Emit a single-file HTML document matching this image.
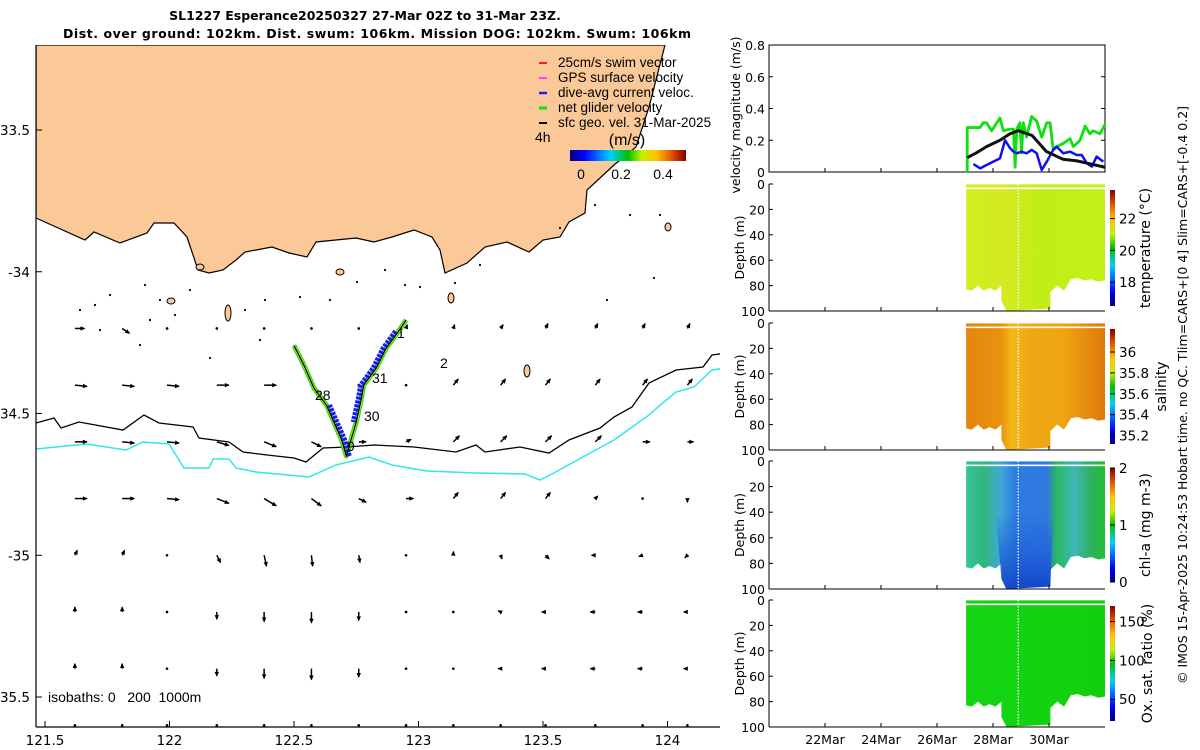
<!DOCTYPE html>
<html><head><meta charset="utf-8"><style>
html,body{margin:0;padding:0;background:#fff;}
svg{display:block;font-family:"DejaVu Sans","Liberation Sans",sans-serif;}
</style></head><body>
<svg id="root" width="1200" height="750" viewBox="0 0 1200 750" xmlns="http://www.w3.org/2000/svg">
<defs>
<linearGradient id="jet" x1="0" y1="1" x2="0" y2="0">
<stop offset="0" stop-color="#00007f"/><stop offset="0.12" stop-color="#0000ff"/><stop offset="0.35" stop-color="#00d0ff"/><stop offset="0.5" stop-color="#00c000"/><stop offset="0.62" stop-color="#c8f000"/><stop offset="0.75" stop-color="#ffc000"/><stop offset="0.88" stop-color="#e05000"/><stop offset="1" stop-color="#800000"/></linearGradient>
<linearGradient id="jetH" x1="0" y1="0" x2="1" y2="0">
<stop offset="0" stop-color="#00007f"/><stop offset="0.12" stop-color="#0000ff"/><stop offset="0.35" stop-color="#00d0ff"/><stop offset="0.5" stop-color="#00c000"/><stop offset="0.62" stop-color="#c8f000"/><stop offset="0.75" stop-color="#ffc000"/><stop offset="0.88" stop-color="#e05000"/><stop offset="1" stop-color="#800000"/></linearGradient>
<linearGradient id="gT" x1="0" y1="0" x2="1" y2="0"><stop offset="0" stop-color="#d0ee20"/><stop offset="0.3" stop-color="#d4ea22"/><stop offset="0.5" stop-color="#c2ee18"/><stop offset="1" stop-color="#c4f018"/></linearGradient>
<linearGradient id="gS" x1="0" y1="0" x2="1" y2="0"><stop offset="0" stop-color="#e2860c"/><stop offset="0.25" stop-color="#e8920e"/><stop offset="0.33" stop-color="#f6b818"/><stop offset="0.45" stop-color="#eea814"/><stop offset="0.7" stop-color="#f0a412"/><stop offset="1" stop-color="#dc7a0a"/></linearGradient>
<linearGradient id="gC" x1="0" y1="0" x2="1" y2="0"><stop offset="0" stop-color="#38c4a0"/><stop offset="0.12" stop-color="#30b878"/><stop offset="0.25" stop-color="#40a8d8"/><stop offset="0.35" stop-color="#2c7ce0"/><stop offset="0.58" stop-color="#3078e0"/><stop offset="0.65" stop-color="#28b860"/><stop offset="0.78" stop-color="#40b8b8"/><stop offset="0.9" stop-color="#30b060"/><stop offset="1" stop-color="#20c030"/></linearGradient>
<linearGradient id="gCv" x1="0" y1="0" x2="0" y2="1"><stop offset="0" stop-color="#1c5ad8" stop-opacity="0"/><stop offset="0.5" stop-color="#1c5ad8" stop-opacity="0.6"/><stop offset="1" stop-color="#1040c8" stop-opacity="0.9"/></linearGradient>
<linearGradient id="gO" x1="0" y1="0" x2="1" y2="0"><stop offset="0" stop-color="#14d414"/><stop offset="1" stop-color="#10d010"/></linearGradient>
<clipPath id="mapclip"><rect x="36" y="45" width="684" height="682"/></clipPath>
</defs>

<text x="365" y="20" font-size="12.5" font-weight="bold" text-anchor="middle">SL1227 Esperance20250327 27-Mar 02Z to 31-Mar 23Z.</text>
<text x="377" y="38" font-size="12.5" font-weight="bold" text-anchor="middle" textLength="628">Dist. over ground: 102km. Dist. swum: 106km. Mission DOG: 102km. Swum: 106km</text>

<g id="map">
<g clip-path="url(#mapclip)">
<polygon id="land" fill="#fbc898" stroke="#000" stroke-width="1.2" points="36,45 665,45 649,107 636,147 614,165 587,190 585,213 569,222 560,237 543,240 529,252 507,242 485,247 467,263 445,273 440,250 432,237 414,230 392,237 374,242 356,238 316,242 307,257 289,253 272,247 245,252 236,260 223,270 209,273 198,270 187,237 174,223 154,223 147,233 120,243 94,232 85,240 36,218"/>
<polyline fill="none" stroke="#000" stroke-width="1.3" points="36,423 54,418 61,428 79,422 123,430 144,415 159,423 193,427 199,438 229,442 243,452 267,455 294,458 306,462 323,448 347,447 374,445 414,447 456,452 476,445 485,452 520,447 549,453 569,440 600,428 614,417 632,407 649,383 676,370 703,367 712,355 727,353"/>
<polyline fill="none" stroke="#30e8e8" stroke-width="1.5" points="36,449 86,444 126,450 143,442 169,444 184,468 209,468 213,459 229,459 236,468 256,472 309,477 336,465 369,457 392,465 427,471 476,473 525,474 540,480 552,474 583,457 614,440 649,415 658,407 676,392 694,387 712,370 727,368"/>
<g id="islands" fill="#fbc898" stroke="#000" stroke-width="1">
<ellipse cx="228" cy="313" rx="3" ry="8"/><ellipse cx="451" cy="298" rx="3" ry="5"/><ellipse cx="200" cy="267" rx="4" ry="3"/><ellipse cx="171" cy="301" rx="4" ry="3"/><ellipse cx="527" cy="371" rx="3" ry="6"/><ellipse cx="668" cy="227" rx="3" ry="4"/><ellipse cx="340" cy="272" rx="4" ry="3"/>
</g>
<g id="specks" fill="#000"></g>
<g id="arrows"></g>
<g id="track"></g>
</g>
<line x1="36" y1="45" x2="36" y2="727" stroke="#000" stroke-width="1.2"/>
<line x1="36" y1="727" x2="720" y2="727" stroke="#000" stroke-width="1.2"/>
<g id="mapticks" font-size="13.5"></g>
<g font-size="14" font-family="Liberation Sans, sans-serif">
<text x="397" y="338">1</text><text x="440" y="368">2</text><text x="372" y="383">31</text><text x="315" y="400">28</text><text x="364" y="421">30</text><text x="347" y="451">9</text>
</g>
<g font-size="13.5" font-family="Liberation Sans, sans-serif">
<line x1="539" y1="63" x2="547" y2="63" stroke="#ff2020" stroke-width="2"/><text x="558" y="67">25cm/s swim vector</text>
<line x1="539" y1="78" x2="547" y2="78" stroke="#ff40ff" stroke-width="2"/><text x="558" y="82">GPS surface velocity</text>
<line x1="539" y1="93" x2="547" y2="93" stroke="#2020ff" stroke-width="2.5"/><text x="558" y="97">dive-avg current veloc.</text>
<line x1="539" y1="108" x2="547" y2="108" stroke="#10e010" stroke-width="3"/><text x="558" y="112">net glider velocity</text>
<line x1="539" y1="123" x2="547" y2="123" stroke="#000" stroke-width="2"/><text x="558" y="127">sfc geo. vel. 31-Mar-2025</text>
<text x="535" y="142" font-size="14">4h</text>
<text x="627" y="145" font-size="16" text-anchor="middle">(m/s)</text>
<rect x="570" y="150" width="116" height="11" fill="url(#jetH)"/>
<text x="581" y="179" text-anchor="middle" font-size="14">0</text><text x="621" y="179" text-anchor="middle" font-size="14">0.2</text><text x="663" y="179" text-anchor="middle" font-size="14">0.4</text>
</g>
<text x="48" y="702" font-size="14" font-family="Liberation Sans, sans-serif" style="white-space:pre">isobaths: 0   200  1000m</text>
</g>

<g id="right" font-size="12.5"></g>
<text transform="translate(1187,395) rotate(-90)" text-anchor="middle" font-size="12.5">© IMOS 15-Apr-2025 10:24:53 Hobart time. no QC. Tlim=CARS+[0 4] Slim=CARS+[-0.4 0.2]</text>
</svg>
<script>
// ---------- data ----------
const lonTicks = [121.5, 122, 122.5, 123, 123.5, 124];
const latTicks = ["33.5", "-34", "34.5", "-35", "35.5"];
const latTickVals = [-33.5, -34, -34.5, -35, -35.5];
const arrowLats = [-34.2, -34.4, -34.6, -34.8, -35.0, -35.2, -35.4, -35.6];
const arrowLons = [121.62, 121.81, 121.99, 122.19, 122.38, 122.57, 122.76, 122.95, 123.14, 123.33, 123.51, 123.71, 123.9, 124.08];
const arrowU = [
 [8,6,1,1,1,1,1,1,1,2,2,2,2,2],
 [10,10,10,10,10,1,1,1,4,4,4,4,4,4],
 [10,10,10,10,10,8,6,4,5,5,5,5,6,5],
 [10,10,10,10,10,8,6,6,4,4,4,2,0,0],
 [2,2,0,3,2,1,1,0,0,1,3,-3,-3,-2],
 [0,0,0,0,0,0,0,0,0,-2,-3,-4,-4,-3],
 [0,0,0,0,0,0,0,0,0,-2,-3,-4,-4,-3],
 [0,0,0,0,0,0,0,0,0,0,0,0,0,0]];
const arrowV = [
 [0,4,0,0,0,0,0,-3,-3,-3,-4,-4,-4,-4],
 [1,1,1,0,0,0,0,0,-5,-5,-5,-5,-5,-5],
 [0,1,1,3,4,4,0,-2,-5,-5,-5,-5,0,0],
 [0,0,1,4,6,6,3,0,-5,-5,-5,-2,0,3],
 [-4,-4,0,6,9,9,6,0,-3,3,3,0,1,2],
 [-4,-4,0,6,8,9,7,0,0,-1,0,0,0,0],
 [-4,-4,0,6,8,9,7,0,0,0,0,0,0,0],
 [0,0,0,0,0,0,0,0,0,0,0,0,0,0]];
const trackLon = [122.95, 122.92, 122.87, 122.83, 122.78, 122.77, 122.75, 122.73, 122.71, 122.69, 122.66, 122.63, 122.58, 122.54, 122.50];
const trackLat = [-34.17, -34.21, -34.27, -34.34, -34.40, -34.45, -34.53, -34.59, -34.65, -34.59, -34.53, -34.47, -34.41, -34.33, -34.26];
const blueSegStart = [1, 8];
const blueSegEnd = [6, 11];
const greenT = [27.08,27.08,27.54,27.65,27.77,27.95,28.25,28.37,28.61,28.73,28.79,28.85,28.96,29.02,29.08,29.2,29.38,29.56,29.74,29.92,30.04,30.15,30.27,30.51,30.75,30.87,31.11,31.29,31.46,31.58,31.82,32.0];
const greenV = [0,0.28,0.28,0.31,0.31,0.26,0.34,0.26,0.27,0.27,0.03,0.27,0.31,0.12,0.31,0.22,0.35,0.32,0.22,0.31,0.31,0.14,0.16,0.18,0.21,0.16,0.20,0.29,0.24,0.26,0.24,0.30];
const blueT = [27.30,27.54,27.77,28.01,28.25,28.43,28.61,28.73,28.85,29.02,29.2,29.38,29.56,29.74,29.92,30.15,30.27,30.51,30.75,30.99,31.17,31.35,31.53,31.7,31.94];
const blueV = [0.05,0.023,0.044,0.065,0.086,0.2,0.15,0.128,0.118,0.128,0.118,0.139,0.118,0.013,0.065,0.139,0.16,0.118,0.128,0.107,0.107,0.055,0.034,0.097,0.065];
const blackT = [27.08,27.4,27.77,28.25,28.6,28.9,29.4,29.9,30.5,31.0,31.5,32.0];
const blackV = [0.09,0.12,0.16,0.2,0.24,0.26,0.23,0.13,0.08,0.07,0.05,0.03];
const velTicks = [0, 0.2, 0.4, 0.6, 0.8];
const depthTicks = [0, 20, 40, 60, 80, 100];
const dateTicks = [22, 24, 26, 28, 30];
const dateLabels = ["22Mar","24Mar","26Mar","28Mar","30Mar"];
const secStart = 27.04, secEnd = 32.0, bulgeStart = 28.3, bulgeEnd = 30.05, gapT = 28.9;
const bodyBottom = [80,84,82,84,80,84,83];
const rightBottom = [76,77,75,76,74,75,84,80,85];
const tempTicks = [22,20,18], tempMin = 16.5, tempMax = 23.8;
const salTicks = [36,35.8,35.6,35.4,35.2], salMin = 35.12, salMax = 36.22;
const chlTicks = [2,1,0], chlMin = 0, chlMax = 2;
const oxTicks = [150,100,50], oxMin = 22, oxMax = 170;

const NS = "http://www.w3.org/2000/svg";
function mk(tag, attrs, parent){ const e=document.createElementNS(NS,tag); for(const k in attrs) e.setAttribute(k,attrs[k]); parent.appendChild(e); return e; }
const lonX = lon => 45 + (lon-121.5)*249;
const latY = lat => 130 + (-33.5-lat)*283.5;
const tX = d => 769 + (d-20)*28;
const ARROW_SCALE = 1.2;

const mt = document.getElementById('mapticks');
lonTicks.forEach(v=>{ const x=lonX(v);
 const l=mk('line',{x1:x,y1:727,x2:x,y2:721,stroke:'#000'},mt);
  
 const t=mk('text',{x:x,y:745,'text-anchor':'middle'},mt); t.textContent=v;
  
});
latTickVals.forEach((v,i)=>{ const y=latY(v);
 const l=mk('line',{x1:36,y1:y,x2:42,y2:y,stroke:'#000'},mt);
  
 const t=mk('text',{x:30,y:y+5,'text-anchor':'end'},mt); t.textContent=latTicks[i];
  
});
const sp=document.getElementById('specks');
[[80,310],[95,305],[110,295],[145,285],[160,300],[175,315],[150,320],[190,290],[245,310],[265,300],[300,297],[330,300],[357,282],[385,270],[405,285],[420,287],[455,283],[480,265],[560,228],[595,205],[630,215],[660,215],[607,300],[654,278],[100,330],[140,345],[210,358],[260,340]].forEach(p=>{
 const c=mk('circle',{cx:p[0],cy:p[1],r:1.1},sp);
  
});
const ag = document.getElementById('arrows');
arrowLats.forEach((la,r)=>{ arrowLons.forEach((lo,c)=>{
 const x=lonX(lo), y=latY(la), u=arrowU[r][c]*ARROW_SCALE, v=arrowV[r][c]*ARROW_SCALE;
 const g=mk('g',{},ag);
  
 mk('line',{x1:x,y1:y,x2:x+u,y2:y+v,stroke:'#000','stroke-width':1.5},g);
 const L=Math.hypot(u,v);
 if(L>2){ const ux=u/L, uy=v/L, hx=x+u, hy=y+v;
   mk('polygon',{points:`${hx+ux},${hy+uy} ${hx-4*ux+2.2*uy},${hy-4*uy-2.2*ux} ${hx-4*ux-2.2*uy},${hy-4*uy+2.2*ux}`,fill:'#000'},g);
 } else mk('circle',{cx:x,cy:y,r:1.3,fill:'#000'},g);
});});
const tg = document.getElementById('track');
const P = i => [lonX(trackLon[i]), latY(trackLat[i])];
const pts = trackLon.map((lo,i)=>P(i).join(',')).join(' ');
let p=mk('polyline',{points:pts,fill:'none',stroke:'#20e020','stroke-width':5,'stroke-linejoin':'round'},tg);
 
p=mk('polyline',{points:pts,fill:'none',stroke:'#e0e020','stroke-width':2.5},tg);
 
blueSegStart.forEach((s,k)=>{
 const arr=[]; for(let i=s;i<=blueSegEnd[k];i++){ const q=P(i); arr.push(`${q[0]+(k===0?-3:3)},${q[1]}`); }
 const b=mk('polyline',{points:arr.join(' '),fill:'none',stroke:'#1a1aff','stroke-width':5,'stroke-linejoin':'round','stroke-dasharray':'3 1'},tg);
  
});
p=mk('polyline',{points:pts,fill:'none',stroke:'#000','stroke-width':1.2},tg);
 

const R = document.getElementById('right');
function dateAxis(y0,y1,labels){
 dateTicks.forEach((d,i)=>{ const x=tX(d);
  const l=mk('line',{x1:x,y1:y1,x2:x,y2:y1-4,stroke:'#000'},R);
   
  if(labels){ const t=mk('text',{x:x,y:y1+17,'text-anchor':'middle'},R); t.textContent=dateLabels[i];
     }
 });
}
const vy = v => 172 - v/0.8*127;
let ax=mk('rect',{x:769,y:45,width:336,height:127,fill:'none',stroke:'#000','stroke-width':1},R);
 
velTicks.forEach(v=>{ const y=vy(v);
 const l=mk('line',{x1:769,y1:y,x2:773,y2:y,stroke:'#000'},R);
  
 mk('line',{x1:1105,y1:y,x2:1101,y2:y,stroke:'#000'},R);
 const t=mk('text',{x:765,y:y+5,'text-anchor':'end'},R); t.textContent=v;
  
});
dateAxis(45,172,false);
const line=(T,V,col,w,name)=>{ const e=mk('polyline',{points:T.map((t,i)=>`${tX(t)},${vy(V[i])}`).join(' '),fill:'none',stroke:col,'stroke-width':w,'stroke-linejoin':'round'},R);
   };
line(greenT,greenV,'#10e010',2.8,'net-glider-speed-line');
line(blueT,blueV,'#1010ee',2.5,'dive-avg-current-line');
line(blackT,blackV,'#111',3,'geostrophic-speed-line');
let tt=mk('text',{transform:'translate(740,115) rotate(-90)','text-anchor':'middle'},R); tt.textContent='velocity magnitude (m/s)';
 

const panels = [
 {y0:184,y1:311,fill:'url(#gT)',bar:[190,306],ticks:tempTicks,mn:tempMin,mx:tempMax,title:'temperature (°C)',tx:1150,name:'temperature'},
 {y0:323,y1:450,fill:'url(#gS)',bar:[329,444],ticks:salTicks,mn:salMin,mx:salMax,title:'salinity',tx:1166,name:'salinity'},
 {y0:461,y1:589,fill:'url(#gC)',bar:[468,582],ticks:chlTicks,mn:chlMin,mx:chlMax,title:'chl-a (mg m-3)',tx:1150,name:'chlorophyll'},
 {y0:600,y1:727,fill:'url(#gO)',bar:[606,721],ticks:oxTicks,mn:oxMin,mx:oxMax,title:'Ox. sat. ratio (%)',tx:1152,name:'oxygen'}
];
panels.forEach((Pn,pi)=>{
 const dy = d => Pn.y0 + d/100*(Pn.y1-Pn.y0);
 const g=mk('g',{},R);  
 let poly=[`${tX(secStart)},${dy(4)}`,`${tX(secEnd)},${dy(4)}`];
 rightBottom.forEach((b,i)=>{ const t=secEnd-(secEnd-bulgeEnd)*i/(rightBottom.length-1); poly.push(`${tX(t)},${dy(b)}`); });
 poly.push(`${tX(bulgeEnd)},${dy(98)}`,`${tX(bulgeStart)+5},${dy(100)}`,`${tX(bulgeStart)},${dy(92)}`);
 bodyBottom.forEach((b,i)=>{ const t=bulgeStart-(bulgeStart-secStart)*i/(bodyBottom.length-1); poly.push(`${tX(t)},${dy(b)}`); });
 mk('polygon',{points:poly.join(' '),fill:Pn.fill},g);
 if(pi===2){ mk('polygon',{points:`${tX(bulgeStart-0.2)},${dy(40)} ${tX(bulgeEnd+0.1)},${dy(40)} ${tX(bulgeEnd)},${dy(98)} ${tX(bulgeStart)+5},${dy(100)} ${tX(bulgeStart)},${dy(92)}`,fill:'url(#gCv)'},g); }
 mk('rect',{x:tX(secStart),y:dy(0.3),width:tX(secEnd)-tX(secStart),height:dy(2.8)-dy(0.3),fill:Pn.fill},g);
 mk('line',{x1:tX(gapT),y1:dy(0),x2:tX(gapT),y2:dy(100),stroke:'#fff','stroke-width':1.2,'stroke-dasharray':'1.5 1.5'},g);
 const a=mk('line',{x1:769,y1:Pn.y1,x2:1105,y2:Pn.y1,stroke:'#000'},R);  
 mk('line',{x1:769,y1:Pn.y0,x2:769,y2:Pn.y1,stroke:'#000'},R);
 depthTicks.forEach(d=>{ const y=dy(d);
  const l=mk('line',{x1:769,y1:y,x2:773,y2:y,stroke:'#000'},R);  
  const t=mk('text',{x:765,y:y+5,'text-anchor':'end'},R); t.textContent=d;  
 });
 dateAxis(Pn.y0,Pn.y1,pi===3);
 const dt=mk('text',{transform:`translate(744,${(Pn.y0+Pn.y1)/2}) rotate(-90)`,'text-anchor':'middle'},R); dt.textContent='Depth (m)';
  
 const cb=mk('rect',{x:1110,y:Pn.bar[0],width:5,height:Pn.bar[1]-Pn.bar[0],fill:'url(#jet)'},R);
  
 Pn.ticks.forEach(v=>{ const y=Pn.bar[1]-(v-Pn.mn)/(Pn.mx-Pn.mn)*(Pn.bar[1]-Pn.bar[0]);
  mk('line',{x1:1110,y1:y,x2:1115,y2:y,stroke:'#000'},R);
  const t=mk('text',{x:1119,y:y+5,'font-size':13.5},R); t.textContent=v;  
 });
 const ct=mk('text',{transform:`translate(${Pn.tx},${(Pn.bar[0]+Pn.bar[1])/2}) rotate(-90)`,'text-anchor':'middle','font-size':14},R); ct.textContent=Pn.title;
  
});
</script>
</body></html>
